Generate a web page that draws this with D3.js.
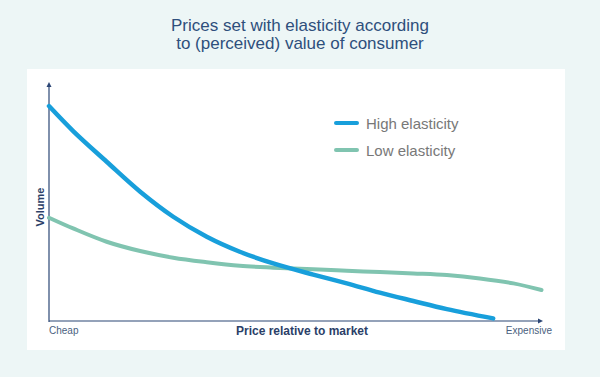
<!DOCTYPE html>
<html>
<head>
<meta charset="utf-8">
<script src="https://cdn.jsdelivr.net/npm/d3@7"></script>
<style>
  body { margin: 0; background: #edf6f6; }
  svg { display: block; }
</style>
</head>
<body>
<div id="chart"></div>
<script>
// price position (0 = cheap, 100 = expensive) and volume (0-100)
const titleLines = ["Prices set with elasticity according", "to (perceived) value of consumer"];
const seriesNames = ["High elasticity", "Low elasticity"];
const highX = [0, 4.9, 11.7, 18.5, 25.2, 32.0, 38.7, 45.5, 53.6, 60.4, 67.1, 73.9, 80.7, 90.1];
const highY = [90.3, 79.8, 66.9, 54.3, 43.8, 35.4, 29.1, 24.2, 19.5, 15.8, 11.9, 8.4, 5.0, 1.1];
const lowX = [0, 4.9, 11.7, 18.5, 25.2, 32.0, 38.7, 45.5, 53.6, 60.4, 67.1, 73.9, 80.7, 87.4, 94.2, 99.9];
const lowY = [43.4, 38.9, 33.3, 29.4, 26.6, 24.7, 23.2, 22.4, 21.7, 21.1, 20.6, 20.0, 19.3, 17.9, 15.8, 13.0];
const xEnds = ["Cheap", "Expensive"];

const W = 600, H = 377;
const svg = d3.select("#chart").append("svg")
    .attr("width", W).attr("height", H);

svg.append("rect").attr("width", W).attr("height", H).attr("fill", "#edf6f6");
// white panel
svg.append("rect")
    .attr("x", 27).attr("y", 69)
    .attr("width", 538).attr("height", 281)
    .attr("fill", "#ffffff");

// title
svg.append("text")
    .attr("x", 300).attr("text-anchor", "middle")
    .style("font-family", "Liberation Sans, Arial, sans-serif")
    .style("font-size", "17px")
    .attr("fill", "#2e4f7c")
    .selectAll("tspan").data(titleLines).join("tspan")
    .attr("x", 300)
    .attr("y", (d, i) => 30.5 + i * 18.5)
    .text(d => d);

const x = d3.scaleLinear().domain([0, 100]).range([49, 542]);
const y = d3.scaleLinear().domain([0, 100]).range([321, 83]);

const axisColor = "#2b4675";
// axes with arrows
svg.append("line")
    .attr("x1", x(0)).attr("x2", x(0))
    .attr("y1", y(0) + 1).attr("y2", y(100) + 2)
    .attr("stroke", axisColor).attr("stroke-width", 1.2);
svg.append("path")
    .attr("d", `M${x(0) - 2.5},${y(100) + 4} L${x(0)},${y(100) - 1} L${x(0) + 2.5},${y(100) + 4} Z`)
    .attr("fill", axisColor);
svg.append("line")
    .attr("x1", x(0)).attr("x2", x(100) - 2)
    .attr("y1", y(0)).attr("y2", y(0))
    .attr("stroke", axisColor).attr("stroke-width", 1.2);
svg.append("path")
    .attr("d", `M${x(100) - 4},${y(0) - 2.5} L${x(100) + 1},${y(0)} L${x(100) - 4},${y(0) + 2.5} Z`)
    .attr("fill", axisColor);

const line = d3.line()
    .x(d => x(d[0])).y(d => y(d[1]))
    .curve(d3.curveCatmullRom.alpha(0.5));

const colors = ["#189fdb", "#80c4b0"];
const series = [d3.zip(highX, highY), d3.zip(lowX, lowY)];

// low elasticity drawn first, high on top
svg.selectAll(".curve").data([1, 0]).join("path")
    .attr("class", "curve")
    .attr("d", i => line(series[i]))
    .attr("fill", "none")
    .attr("stroke", i => colors[i])
    .attr("stroke-width", i => i === 0 ? 4.5 : 4)
    .attr("stroke-linecap", "round");

// legend
const legend = svg.append("g").attr("transform", "translate(336,123)");
seriesNames.forEach((name, i) => {
    const row = legend.append("g").attr("transform", `translate(0,${i * 27})`);
    row.append("line")
        .attr("x1", 0).attr("x2", 21)
        .attr("stroke", colors[i]).attr("stroke-width", 4)
        .attr("stroke-linecap", "round");
    row.append("text")
        .attr("x", 30).attr("y", 5.5)
        .style("font-family", "Liberation Sans, Arial, sans-serif")
        .style("font-size", "15px")
        .attr("fill", "#787878")
        .text(name);
});

// axis labels
const labelFont = "Liberation Sans, Arial, sans-serif";
svg.append("text")
    .attr("x", x(0)).attr("y", 334)
    .style("font-family", labelFont).style("font-size", "10px")
    .attr("fill", "#4b5f80")
    .text(xEnds[0]);
svg.append("text")
    .attr("x", 552).attr("y", 334).attr("text-anchor", "end")
    .style("font-family", labelFont).style("font-size", "10px")
    .attr("fill", "#4b5f80")
    .text(xEnds[1]);
svg.append("text")
    .attr("x", 302).attr("y", 335).attr("text-anchor", "middle")
    .style("font-family", labelFont).style("font-size", "12px")
    .style("font-weight", "bold")
    .attr("fill", "#2b3f68")
    .text("Price relative to market");
svg.append("text")
    .attr("transform", "translate(44,207) rotate(-90)")
    .attr("text-anchor", "middle")
    .style("font-family", labelFont).style("font-size", "11px")
    .style("font-weight", "bold")
    .attr("fill", "#2b3f68")
    .text("Volume");
</script>
</body>
</html>
